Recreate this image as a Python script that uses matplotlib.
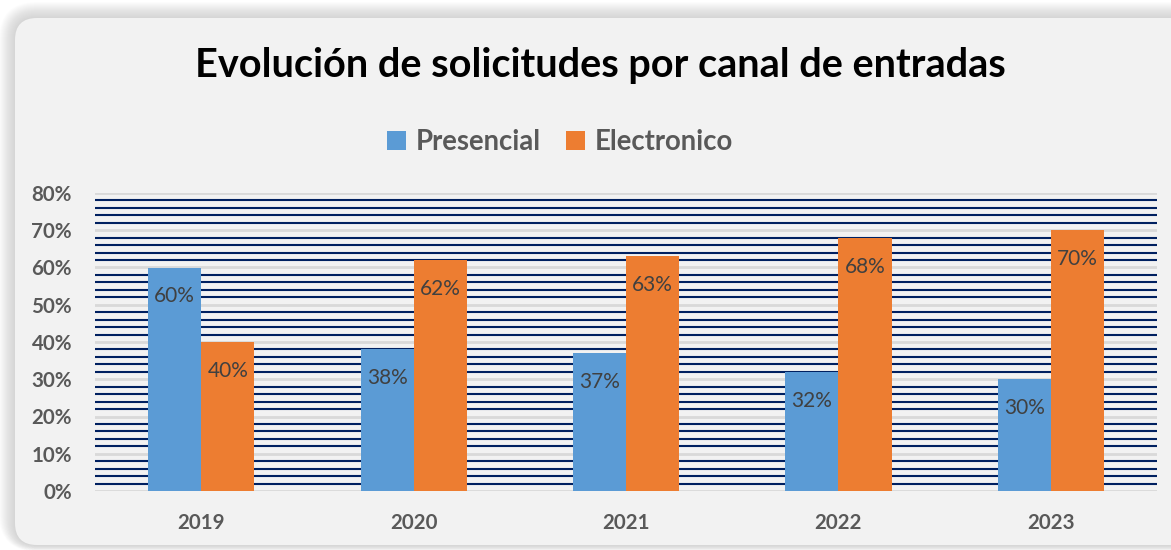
import numpy as np
import matplotlib.pyplot as plt
import matplotlib.transforms as mtransforms
from matplotlib.patches import FancyBboxPatch
from matplotlib.ticker import MultipleLocator, FuncFormatter

years = ['2019', '2020', '2021', '2022', '2023']
presencial = [0.60, 0.38, 0.37, 0.32, 0.30]
electronico = [0.40, 0.62, 0.63, 0.68, 0.70]

W, H = 1171, 550
plt.rcParams['font.family'] = ['Lato', 'DejaVu Sans']

fig = plt.figure(figsize=(W / 100, H / 100), dpi=100)
fig.patch.set_facecolor('white')
px = mtransforms.Affine2D().scale(1 / W, 1 / H) + fig.transFigure

# soft shadow then the rounded card
for i in range(16, 0, -1):
    sh = FancyBboxPatch((15 - i, 5 - i * 0.4), 1200 + i, 527 + i * 1.4,
                        boxstyle="round,pad=0,rounding_size=%d" % (22 + i),
                        transform=px, facecolor='#808080', edgecolor='none',
                        alpha=0.018, zorder=-3)
    fig.patches.append(sh)
card = FancyBboxPatch((15, 5), 1200, 527, boxstyle="round,pad=0,rounding_size=22",
                      transform=px, facecolor='#f2f2f2', edgecolor='none', zorder=-2)
fig.patches.append(card)

ax = fig.add_axes([95 / W, (H - 491) / H, 1062 / W, (491 - 193) / H])
ax.set_facecolor('none')

x = np.arange(len(years))
w = 0.25
b1 = ax.bar(x - w / 2, presencial, w, color='#5b9bd5', label='Presencial', zorder=3)
b2 = ax.bar(x + w / 2, electronico, w, color='#ed7d31', label='Electronico', zorder=3)

for bars in (b1, b2):
    for r in bars:
        ax.annotate('%d%%' % round(r.get_height() * 100),
                    (r.get_x() + r.get_width() / 2, r.get_height()),
                    xytext=(0, -29), textcoords='offset pixels',
                    ha='center', va='center', fontsize=15, color='#404040', zorder=4)

ax.set_xlim(-0.5, len(years) - 0.5)
ax.set_ylim(0, 0.8)
ax.yaxis.set_major_locator(MultipleLocator(0.1))
ax.yaxis.set_minor_locator(MultipleLocator(0.02))
ax.yaxis.set_major_formatter(FuncFormatter(lambda v, p: '%d%%' % round(v * 100)))
ax.grid(which='major', axis='y', color='#d9d9d9', linewidth=2, zorder=1)
ax.grid(which='minor', axis='y', color='#002060', linewidth=1.5, zorder=1)
ax.grid(axis='x', visible=False)
ax.set_axisbelow(True)
ax.tick_params(which='both', length=0)
ax.tick_params(axis='y', pad=16.5, labelsize=14.8, labelcolor='#595959')
ax.tick_params(axis='x', pad=16, labelsize=14.8, labelcolor='#595959')
ax.set_xticks(x)
ax.set_xticklabels(years, fontweight='bold')
for lab in ax.get_yticklabels():
    lab.set_fontweight('bold')
for s in ax.spines.values():
    s.set_visible(False)

fig.text(600 / W, 1 - 65 / H, 'Evolución de solicitudes por canal de entradas',
         ha='center', va='center', fontsize=28.5, fontweight='bold', color='black')

leg = fig.legend(handles=[b1, b2], loc='center', bbox_to_anchor=(560 / W, 1 - 142 / H),
                 ncol=2, frameon=False, fontsize=19.8, handlelength=0.7, handleheight=0.7,
                 handletextpad=0.35, columnspacing=0.9)
for t in leg.get_texts():
    t.set_color('#595959')
    t.set_fontweight('bold')

fig.savefig('out.png', dpi=100)
